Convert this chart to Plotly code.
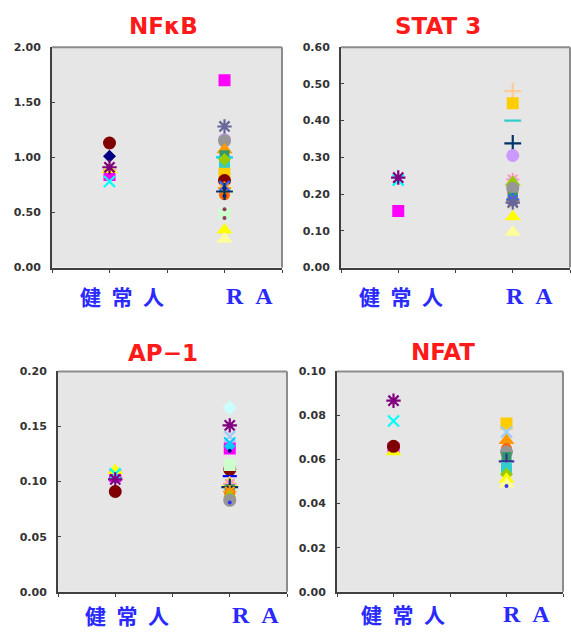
import plotly.graph_objects as go

W, H = 571, 637

# Group names and their positions on the numeric x axis (range 0..4)
GROUPS = ["健常人", "RA"]
GROUP_LABELS = ["健\u2002常\u2002人", "R\u2002A"]
GROUP_X = {"健常人": 1, "RA": 3}

# Marker look for each subject series: (symbol, colour, size)
STYLES = {
    "navy_diamond": ("diamond", "#000080", 10),
    "magenta_square": ("square", "#FF00FF", 12),
    "yellow_triangle": ("triangle-up", "#FFFF00", 14),
    "lightyellow_triangle": ("triangle-up", "#FFFF99", 14),
    "lime_triangle": ("triangle-up", "#99CC00", 14),
    "orange_triangle": ("triangle-up", "#FF9900", 14),
    "cyan_x": ("x-thin-open", "#00FFFF", 11),
    "blue_x": ("x-thin-open", "#3366FF", 10),
    "paleblue_x": ("x-thin-open", "#99CCFF", 11),
    "skyblue_x": ("x-thin-open", "#00CCFF", 11),
    "purple_star": ("asterisk-open", "#800080", 12),
    "bluegray_star": ("asterisk-open", "#666699", 12),
    "orange_star": ("asterisk-open", "#FF9900", 11),
    "blue_star": ("asterisk-open", "#3366FF", 11),
    "rose_star": ("asterisk-open", "#FF99CC", 11),
    "darkred_circle": ("circle", "#800000", 13),
    "gray_circle": ("circle", "#969696", 13),
    "lavender_circle": ("circle", "#CC99FF", 13),
    "orange_circle": ("circle", "#FF6600", 11),
    "seagreen_square": ("square", "#339966", 10),
    "aqua_square": ("square", "#33CCCC", 11),
    "gold_square": ("square", "#FFCC00", 12),
    "lightgreen_square": ("square", "#CCFFCC", 12),
    "lime_diamond": ("diamond", "#99CC00", 10),
    "lightturq_diamond": ("diamond", "#CCFFFF", 11),
    "skyblue_diamond": ("diamond", "#00CCFF", 9),
    "skyblue_dash": ("line-ew-open", "#00CCFF", 12),
    "aqua_dash": ("line-ew-open", "#33CCCC", 12),
    "blue_dash": ("line-ew-open", "#0000FF", 10),
    "tan_plus": ("cross-thin-open", "#FFCC99", 12),
    "darkteal_plus": ("cross-thin-open", "#003366", 12),
    "indigo_plus": ("cross-thin-open", "#333399", 11),
    "navy_dot": ("circle", "#000080", 4),
    "plum_dot": ("circle", "#993366", 4),
    "blue_dot": ("circle", "#3333FF", 4),
    "lavender_dot": ("circle", "#CC99FF", 5),
}

# ---- NFκB ----
nfkb_healthy = [1.01, 0.84, 0.89, 0.78, 0.91, 1.13]
nfkb_healthy_markers = ["navy_diamond", "magenta_square", "yellow_triangle",
                        "cyan_x", "purple_star", "darkred_circle"]
nfkb_ra = [1.70, 0.34, 0.26, 0.49, 1.16, 1.15, 1.07, 1.02, 0.93, 1.00, 0.98,
           0.85, 0.79, 0.66, 0.72, 0.74, 0.65, 0.72, 0.69, 1.28, 0.53, 0.45]
nfkb_ra_markers = ["magenta_square", "yellow_triangle", "lightyellow_triangle",
                   "lightgreen_square", "lavender_circle", "gray_circle",
                   "orange_triangle", "seagreen_square", "aqua_square",
                   "skyblue_dash", "lime_diamond", "gold_square",
                   "darkred_circle", "orange_circle", "orange_star", "blue_x",
                   "navy_dot", "navy_dot", "darkteal_plus", "bluegray_star",
                   "plum_dot", "plum_dot"]

# ---- STAT 3 ----
stat3_healthy = [0.154, 0.238, 0.245]
stat3_healthy_markers = ["magenta_square", "cyan_x", "purple_star"]
stat3_ra = [0.48, 0.447, 0.40, 0.338, 0.305, 0.240, 0.232, 0.205, 0.216,
            0.190, 0.180, 0.185, 0.177, 0.138, 0.096]
stat3_ra_markers = ["tan_plus", "gold_square", "aqua_dash", "darkteal_plus",
                    "lavender_circle", "rose_star", "lime_triangle",
                    "orange_circle", "gray_circle", "seagreen_square",
                    "orange_star", "blue_star", "bluegray_star",
                    "yellow_triangle", "lightyellow_triangle"]

# ---- AP-1 ----
ap1_healthy = [0.104, 0.105, 0.110, 0.107, 0.102, 0.091]
ap1_healthy_markers = ["navy_diamond", "magenta_square", "yellow_triangle",
                       "cyan_x", "purple_star", "darkred_circle"]
ap1_ra = [0.167, 0.151, 0.141, 0.135, 0.130, 0.132, 0.128, 0.111, 0.115,
          0.105, 0.099, 0.098, 0.093, 0.095, 0.089, 0.091, 0.086, 0.083,
          0.081]
ap1_ra_markers = ["lightturq_diamond", "purple_star", "paleblue_x",
                  "skyblue_x", "magenta_square", "skyblue_diamond", "navy_dot",
                  "darkred_circle", "lightgreen_square", "blue_dash",
                  "yellow_triangle", "rose_star", "seagreen_square",
                  "darkteal_plus", "orange_circle", "orange_star",
                  "lime_diamond", "gray_circle", "blue_dot"]

# ---- NFAT ----
nfat_healthy = [0.0655, 0.0650, 0.0635, 0.0775, 0.0867, 0.0660]
nfat_healthy_markers = ["navy_diamond", "magenta_square", "yellow_triangle",
                        "cyan_x", "purple_star", "darkred_circle"]
nfat_ra = [0.0764, 0.0725, 0.0686, 0.0660, 0.0650, 0.0634, 0.0612, 0.0592,
           0.0562, 0.0533, 0.0511, 0.0489, 0.0480]
nfat_ra_markers = ["gold_square", "paleblue_x", "orange_triangle",
                   "lavender_dot", "orange_circle", "gray_circle",
                   "seagreen_square", "indigo_plus", "aqua_square",
                   "lime_diamond", "yellow_triangle", "lightyellow_triangle",
                   "blue_dot"]

TITLES = ["NFκB", "STAT 3", "AP−1", "NFAT"]
Y_MAX = [2.0, 0.6, 0.2, 0.1]
Y_STEP = [0.5, 0.1, 0.05, 0.02]

panel_data = [
    ((nfkb_healthy, nfkb_healthy_markers), (nfkb_ra, nfkb_ra_markers)),
    ((stat3_healthy, stat3_healthy_markers), (stat3_ra, stat3_ra_markers)),
    ((ap1_healthy, ap1_healthy_markers), (ap1_ra, ap1_ra_markers)),
    ((nfat_healthy, nfat_healthy_markers), (nfat_ra, nfat_ra_markers)),
]

# Plot-area boxes in pixels: left, right, top, bottom
BOXES = [(52, 282, 42, 267), (341, 570, 42, 267),
         (58, 287, 373, 598), (337, 563, 373, 598)]
TITLE_POS = [(163, 20), (438, 20), (163, 354), (443, 353)]
LABEL_Y = [296, 296, 622, 621]
LABEL_SHIFT = [(12, 25), (3, 17), (12, 26), (9, 20)]


def px_x(v):
    return v / W


def px_y(v):
    return 1 - v / H


fig = go.Figure()
layout = dict(
    width=W, height=H,
    margin=dict(l=0, r=0, t=0, b=0),
    paper_bgcolor="white",
    plot_bgcolor="#e6e6e6",
    showlegend=False,
    annotations=[],
    shapes=[],
)

tick_font = dict(family="DejaVu Sans", size=11, color="#333333", weight="bold")
title_font = dict(family="DejaVu Sans", size=23, color="#ff1a1a", weight="bold")
cjk_font = dict(family="Noto Sans CJK JP", size=21, color="#2a2aff", weight="bold")
latin_font = dict(family="Liberation Serif", size=24, color="#2a2aff", weight="bold")

for i, (groups, box) in enumerate(zip(panel_data, BOXES)):
    sfx = "" if i == 0 else str(i + 1)
    xa, ya = f"x{sfx}", f"y{sfx}"
    for group, (values, markers) in zip(GROUPS, groups):
        syms = [STYLES[m][0] for m in markers]
        cols = [STYLES[m][1] for m in markers]
        sizes = [STYLES[m][2] for m in markers]
        lw = [2.2 if s.endswith("-open") else 0 for s in syms]
        fig.add_trace(go.Scatter(
            x=[GROUP_X[group]] * len(values), y=values,
            mode="markers", xaxis=xa, yaxis=ya, name=group,
            marker=dict(symbol=syms, color=cols, size=sizes, opacity=1,
                        line=dict(color=cols, width=lw)),
            hoverinfo="y",
        ))

    left, right, top, bottom = box
    layout[f"xaxis{sfx}"] = dict(
        domain=[px_x(left), px_x(right)], anchor=ya, range=[0, 4],
        tickvals=[0, 1, 2, 3, 4], showticklabels=False,
        ticks="outside", ticklen=3, tickwidth=1, tickcolor="#404040",
        showline=True, linecolor="#404040", linewidth=2,
        showgrid=False, zeroline=False, fixedrange=True,
    )
    layout[f"yaxis{sfx}"] = dict(
        domain=[px_y(bottom), px_y(top)], anchor=xa, range=[0, Y_MAX[i]],
        dtick=Y_STEP[i], tick0=0, tickformat=".2f",
        ticks="inside", ticklen=3, tickwidth=1, tickcolor="#404040",
        showline=True, linecolor="#404040", linewidth=2,
        showgrid=False, zeroline=False, fixedrange=True,
        tickfont=tick_font, ticklabelstandoff=7,
    )
    # lighter top and right frame edges
    for (x0, y0, x1, y1) in [(0, 1, 1, 1), (1, 0, 1, 1)]:
        layout["shapes"].append(dict(
            type="line", xref=f"{xa} domain", yref=f"{ya} domain",
            x0=x0, y0=y0, x1=x1, y1=y1,
            line=dict(color="#8c8c8c", width=2),
        ))

    tx, ty = TITLE_POS[i]
    layout["annotations"].append(dict(
        text=TITLES[i], xref="paper", yref="paper",
        x=px_x(tx), y=px_y(ty), xanchor="center", yanchor="middle",
        showarrow=False, font=title_font,
    ))
    for g, (group, label) in enumerate(zip(GROUPS, GROUP_LABELS)):
        layout["annotations"].append(dict(
            text=label, xref=xa, yref="paper",
            x=GROUP_X[group], xshift=LABEL_SHIFT[i][g],
            y=px_y(LABEL_Y[i]), xanchor="center", yanchor="middle",
            showarrow=False, font=cjk_font if g == 0 else latin_font,
        ))

fig.update_layout(**layout)
fig.write_html("out.html")
